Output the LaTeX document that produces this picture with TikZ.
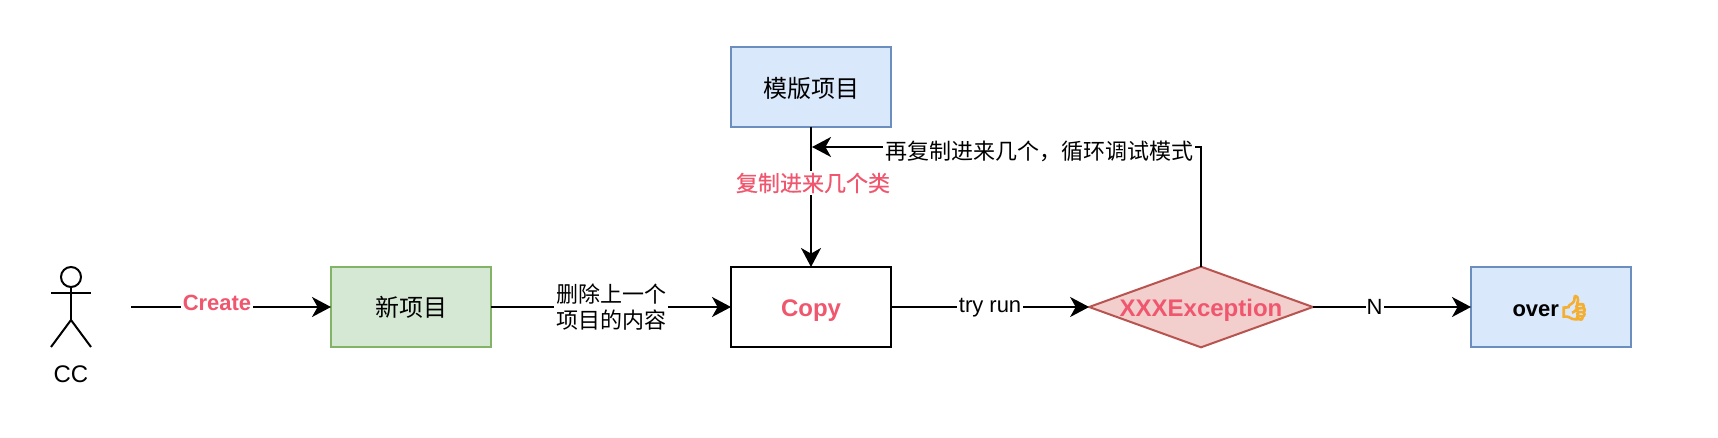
\documentclass[tikz,border=0pt]{standalone}
\usepackage{fontspec}
\setmainfont{Liberation Sans}
\newfontfamily\cjk{Noto Sans CJK SC}
\newfontfamily\cjkheavy[FakeBold=0.6]{Noto Sans CJK SC}
\newfontfamily\emojifont[FakeBold=7]{Noto Emoji}
\usetikzlibrary{arrows.meta,shapes.geometric}

\definecolor{labelred}{HTML}{F0566E}
\definecolor{thumbyellow}{HTML}{F4AE30}
\definecolor{greenfill}{HTML}{D5E8D4}
\definecolor{greenline}{HTML}{82B366}
\definecolor{bluefill}{HTML}{DAE8FC}
\definecolor{blueline}{HTML}{6C8EBF}
\definecolor{redfill}{HTML}{F2CECC}
\definecolor{redline}{HTML}{B85450}

\tikzset{
  box/.style={rectangle, draw, line width=1pt, minimum width=80pt, minimum height=40pt, inner sep=0pt, outer sep=0pt, text height=10pt, text depth=1pt, font=\fontsize{12}{14}\selectfont},
  flow/.style={draw=black, line width=1pt, -{Stealth[length=9.5pt,width=10pt,inset=2.8pt]}},
  edgelabel/.style={fill=white, inner sep=1pt, font=\fontsize{11}{13}\selectfont, align=center}
}

\begin{document}
\begin{tikzpicture}[x=0.5pt, y=-0.5pt]
\useasboundingbox (0,0) rectangle (1718,438);

\coordinate (start) at (131,307);
\node[box, fill=greenfill, draw=greenline] (newproj) at (411,307) {\cjk 新项目};
\node[box, draw=black, fill=white, font=\fontsize{12}{14}\selectfont\bfseries, text=labelred] (copy) at (811,307) {Copy};
\node[box, fill=bluefill, draw=blueline, text height=11pt, text depth=0pt] (template) at (811,87) {\cjk 模版项目};
\node[box, fill=bluefill, draw=blueline, font=\fontsize{11}{13}\selectfont\bfseries] (over) at (1551,307) {over\textcolor{thumbyellow}{\fontsize{12}{14}\selectfont\emojifont 👍}};
\node[diamond, shape aspect=2.775, minimum width=110.5pt, minimum height=40pt, inner sep=0pt, outer sep=0pt, line width=1pt, fill=redfill, draw=redline, text=labelred, text height=10pt, text depth=1pt, font=\fontsize{12}{14}\selectfont\bfseries] (excp) at (1201,307) {XXXException};

% actor
\node[circle, draw, line width=1pt, minimum size=10pt, inner sep=0pt, outer sep=0pt] (head) at (71,277) {};
\coordinate (hip) at (71,320);
\draw[line width=1pt] (head.south) -- (hip);
\draw[line width=1pt] (51,293) -- (91,293);
\draw[line width=1pt] (51,347) -- (hip) -- (91,347);
\node[font=\fontsize{12}{14}\selectfont] (cc) at (71,374) {CC};

\coordinate (loopend) at (812,147);

\draw[flow] (start) -- node[edgelabel, pos=0.43, yshift=2pt, text=labelred, font=\fontsize{11}{13}\selectfont\bfseries] (createlabel) {Create} (newproj.west);
\draw[flow] (newproj.east) -- node[edgelabel, pos=0.5, font=\fontsize{11}{13.2}\selectfont\cjk] (deletelabel) {删除上一个\\项目的内容} (copy.west);
\draw[flow] (copy.east) -- node[edgelabel, yshift=-0.5pt] (trylabel) {try run} (excp.west);
\draw[flow] (excp.east) -- node[edgelabel, pos=0.39, inner sep=0.5pt] (nlabel) {N} (over.west);
\draw[flow] (template.south) -- node[edgelabel, pos=0.4, xshift=1pt, text=labelred, font=\fontsize{11}{13}\selectfont\cjkheavy] (copylabel) {复制进来几个类} (copy.north);
\draw[flow] (excp.north) |- node[edgelabel, pos=0.708, yshift=-2pt, font=\fontsize{11}{13}\selectfont\cjk] (looplabel) {再复制进来几个，循环调试模式} (loopend);
\end{tikzpicture}
\end{document}
